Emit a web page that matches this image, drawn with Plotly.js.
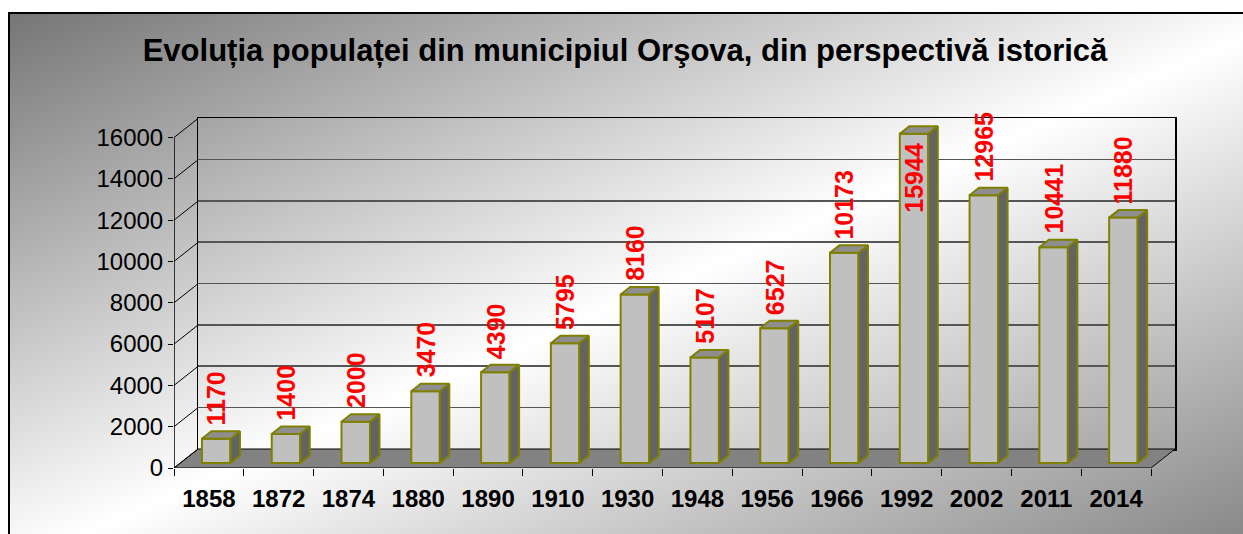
<!DOCTYPE html>
<html>
<head>
<meta charset="utf-8">
<script src="https://cdn.plot.ly/plotly-3.0.1.min.js"></script>
<style>
  html, body { margin: 0; padding: 0; background: #ffffff; overflow: hidden; }
  #bg {
    position: absolute; left: 8px; top: 12px; width: 1240px; height: 530px;
    border-left: 2px solid #000; border-top: 2px solid #000;
    background: linear-gradient(to bottom right, #767676 0%, #ffffff 52%, #868686 100%);
  }
  #chart { position: absolute; left: 0; top: 0; width: 1243px; height: 534px; }
</style>
</head>
<body>
<div id="bg"></div>
<div id="chart"></div>
<script>
// ---- data ----
const years = ['1858','1872','1874','1880','1890','1910','1930','1948','1956','1966','1992','2002','2011','2014'];
const population = [1170, 1400, 2000, 3470, 4390, 5795, 8160, 5107, 6527, 10173, 15944, 12965, 10441, 11880];
const yTickValues = [0, 2000, 4000, 6000, 8000, 10000, 12000, 14000, 16000];
const yTickLabels = ['0', '2000', '4000', '6000', '8000', '10000', '12000', '14000', '16000'];
const titleText = 'Evoluția populaței din municipiul Orşova, din perspectivă istorică';

// ---- geometry (pixels) ----
const W = 1243, H = 534;
const L = 174, R = 1175, T = 118, B = 468;
const plotW = R - L, plotH = B - T;
const frontW = 977;                 // front floor edge length
const front16000 = 330.5;           // px height of 0..16000 on front plane
const DX = 24, DY = 19;             // depth offset of back wall
const pxPerCat = frontW / years.length;
const unitsPerPx = 16000 / front16000;
const xr = [-0.5, -0.5 + plotW / pxPerCat];
const yr = [0, plotH * unitsPerPx];
const DXU = DX / pxPerCat, DYU = DY * unitsPerPx;

const barOffX = 7.3 / pxPerCat;
const barBase = 5 * unitsPerPx;
const barW = 28.5 / pxPerCat;
const depX = 9.5 / pxPerCat, depY = 7.5 * unitsPerPx;

const idx = years.map((_, i) => i);
const bounds = [];
for (let i = 0; i <= years.length; i++) bounds.push(i - 0.5);

const olive = '#808000';
const font = 'Arial, "Liberation Sans", sans-serif';

// back wall subplot holder (no marks, only registers the subplot with its grid)
const backWall = {
  type: 'scatter', mode: 'lines', xaxis: 'x', yaxis: 'y',
  x: [0, 1], y: [0, 0], line: { color: 'rgba(0,0,0,0)', width: 0 }, hoverinfo: 'skip'
};
// floor
const nLast = years.length - 0.5;
const floor = {
  type: 'scatter', mode: 'lines', xaxis: 'x2', yaxis: 'y2',
  x: [-0.5, nLast, nLast + DXU, -0.5 + DXU, -0.5],
  y: [0, 0, DYU, DYU, 0],
  fill: 'toself', fillcolor: '#828282',
  line: { color: '#000', width: 1 }, hoverinfo: 'skip'
};
// side wall lines
const swx = [], swy = [];
yTickValues.forEach(v => { swx.push(-0.5, -0.5 + DXU, null); swy.push(v, v + DYU, null); });
const sideWall = {
  type: 'scatter', mode: 'lines', xaxis: 'x2', yaxis: 'y2',
  x: swx, y: swy, line: { color: '#000', width: 1 }, hoverinfo: 'skip'
};
const frontAxis = {
  type: 'scatter', mode: 'lines', xaxis: 'x2', yaxis: 'y2',
  x: [-0.5, -0.5], y: [0, yTickValues[yTickValues.length - 1]],
  line: { color: '#000', width: 1.5 }, hoverinfo: 'skip'
};

// bar fronts
const fronts = {
  type: 'bar', xaxis: 'x3', yaxis: 'y3',
  x: idx.map(i => i + barOffX), y: population, base: population.map(() => barBase),
  width: barW,
  marker: { color: '#c0c0c0', line: { color: olive, width: 2 } },
  hoverinfo: 'skip'
};
const tx = [], ty = [], sx = [], sy = [];
population.forEach((v, i) => {
  const xl = i + barOffX - barW / 2, xrr = xl + barW, yt = barBase + v;
  tx.push(xl, xrr, xrr + depX, xl + depX, xl, null);
  ty.push(yt, yt, yt + depY, yt + depY, yt, null);
  sx.push(xrr, xrr + depX, xrr + depX, xrr, xrr, null);
  sy.push(barBase, barBase + depY, yt + depY, yt, barBase, null);
});
const tops = {
  type: 'scatter', mode: 'lines', xaxis: 'x3', yaxis: 'y3', x: tx, y: ty,
  fill: 'toself', fillcolor: '#8e8e8e', line: { color: olive, width: 2 }, hoverinfo: 'skip'
};
const sides = {
  type: 'scatter', mode: 'lines', xaxis: 'x3', yaxis: 'y3', x: sx, y: sy,
  fill: 'toself', fillcolor: '#636363', line: { color: olive, width: 2 }, hoverinfo: 'skip'
};

const annotations = population.map((v, i) => {
  const inside = v >= 15000;
  return {
    xref: 'x3', yref: 'y3', x: i + barOffX,
    y: inside ? barBase + v : barBase + v + depY,
    yanchor: inside ? 'top' : 'bottom', xanchor: 'center',
    yshift: inside ? -8 : 5,
    text: String(v), textangle: -90, showarrow: false, borderpad: 0,
    font: { family: font, size: 25, color: '#ff0000', weight: 'bold' }
  };
});

const layout = {
  width: W, height: H,
  margin: { l: L, r: W - R, t: T, b: H - B, pad: 0 },
  paper_bgcolor: 'rgba(0,0,0,0)', plot_bgcolor: 'rgba(0,0,0,0)',
  showlegend: false,
  title: {
    text: titleText, xref: 'container', yref: 'container',
    x: 625 / W, xanchor: 'center', y: 1 - 50 / H, yanchor: 'middle',
    font: { family: font, size: 31, color: '#000', weight: 'bold' }
  },
  xaxis: {
    domain: [DX / plotW, 1], range: [0, 1], showline: true, mirror: true,
    linecolor: '#000', linewidth: 1.5, ticks: '', showticklabels: false,
    showgrid: false, zeroline: false, fixedrange: true
  },
  yaxis: {
    domain: [DY / plotH, 1], range: [0, 16000], tickmode: 'array', tickvals: yTickValues,
    showgrid: true, gridcolor: '#555555', gridwidth: 1.6,
    showline: true, mirror: true, linecolor: '#000', linewidth: 1.5,
    ticks: '', showticklabels: false, zeroline: false, fixedrange: true
  },
  xaxis2: { domain: [0, 1], range: xr, anchor: 'y2', visible: false, fixedrange: true },
  yaxis2: { domain: [0, 1], range: yr, anchor: 'x2', visible: false, fixedrange: true },
  xaxis3: {
    domain: [0, 1], range: xr, anchor: 'y3', tickmode: 'array', tickvals: idx, ticktext: years,
    ticks: '', ticklabelstandoff: 14, showgrid: false, zeroline: false, showline: false,
    tickfont: { family: font, size: 24, color: '#000', weight: 'bold' },
    minor: { tickmode: 'array', tickvals: bounds, ticks: 'outside', ticklen: 7, tickcolor: '#000', tickwidth: 1, showgrid: false },
    fixedrange: true
  },
  yaxis3: {
    domain: [0, 1], range: yr, anchor: 'x3', tickmode: 'array', tickvals: yTickValues, ticktext: yTickLabels,
    ticks: 'outside', ticklen: 5, tickcolor: '#000', tickwidth: 1,
    showgrid: false, zeroline: false, showline: false,
    tickfont: { family: font, size: 24, color: '#000' }, fixedrange: true
  },
  annotations: annotations
};

Plotly.newPlot('chart', [backWall, floor, sideWall, frontAxis, fronts, tops, sides], layout, { displayModeBar: false, staticPlot: true });
</script>
</body>
</html>
